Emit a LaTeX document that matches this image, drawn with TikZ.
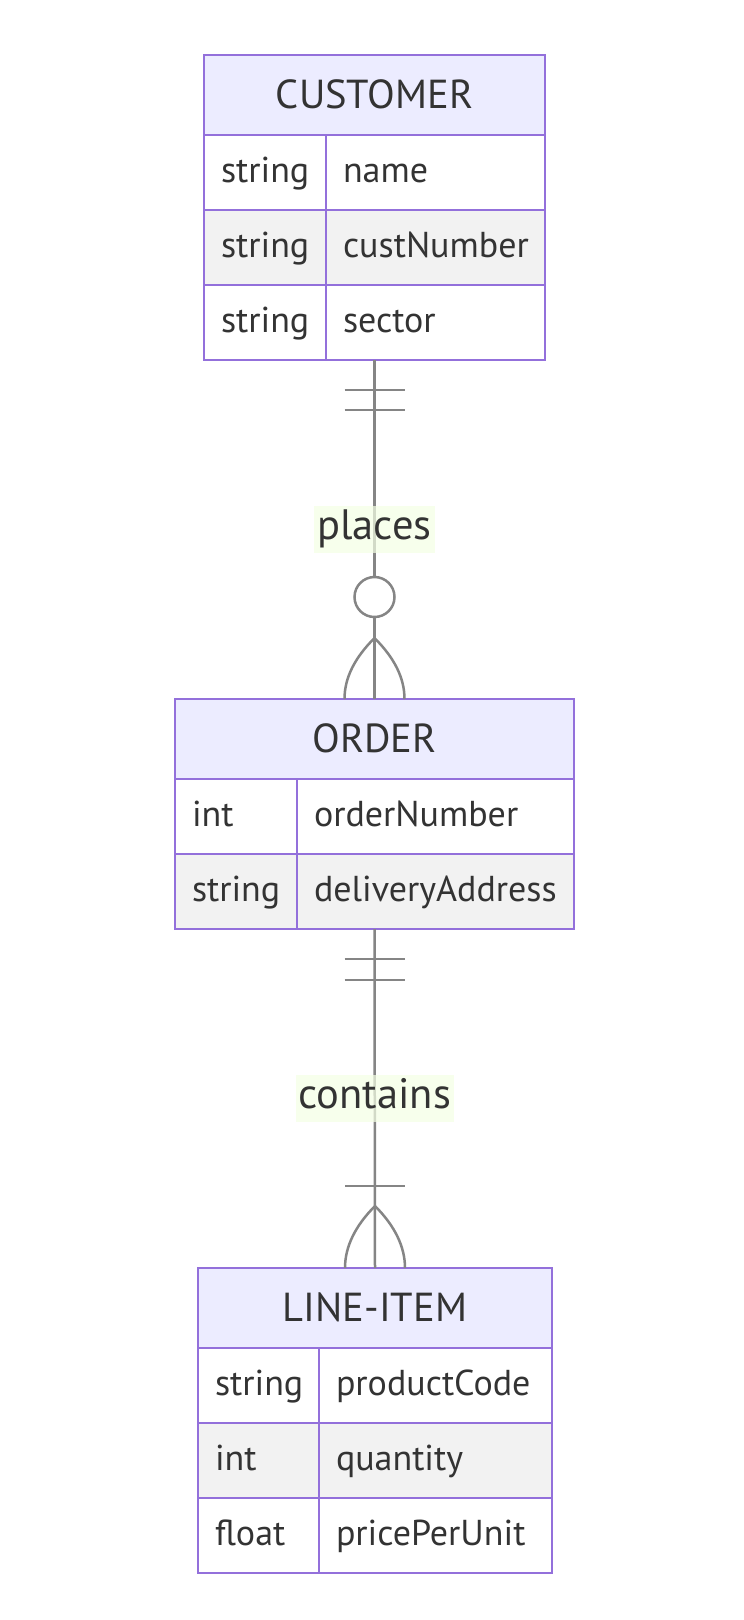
\documentclass[tikz,border=0pt]{standalone}
\usepackage{fontspec}
\setmainfont{PT Sans}
\usetikzlibrary{calc}
\hyphenpenalty=10000

\begin{document}
\begin{tikzpicture}
    [x=1pt, y=-1pt, scale=1.0,
    %Option for the tables
    inner sep=0pt, outer sep=0pt,%
    head/.style={draw=erborder, fill=erhead, line width=2.6pt, minimum height=80,
        minimum width=#1, text height=29, text depth=3, text=ertext,
        font=\fontsize{40.5}{44}\selectfont},
    cell/.style={draw=erborder, line width=2.6pt, anchor=north west, minimum height=75,
        minimum width=#1, text width=#1-34, inner xsep=17pt, align=left,
        text height=26, text depth=6, text=ertext, font=\fontsize{36}{40}\selectfont},
    rel/.style={draw=erline, line width=2.5pt},
    lbl/.style={fill=erlabel, fill opacity=0.7, text opacity=1, text=ertext,
        inner xsep=3pt, minimum height=47, text height=28, text depth=8,
        font=\fontsize{42.5}{46}\selectfont}];

    % Colors

    \definecolor{erborder}{HTML}{9370DB};
    \definecolor{erhead}{HTML}{ECECFF};
    \definecolor{errow}{HTML}{F2F2F2};
    \definecolor{erline}{HTML}{858585};
    \definecolor{erlabel}{HTML}{F4FFE4};
    \definecolor{ertext}{HTML}{333333};

    % Frame
    \useasboundingbox[fill=white] (0,0) rectangle (744,1620);

    % Customer table
    \node[head=341] (cust) at (374.5,95) {CUSTOMER};
    \foreach \ty/\nm/\bg [count=\i] in {string/name/white, string/custNumber/errow, string/sector/white}
    {
        \node[cell=122, fill=\bg] (cust-t\i) at (204,{135+75*(\i-1)}) {\ty};
        \node[cell=219, fill=\bg] (cust-n\i) at (326,{135+75*(\i-1)}) {\nm};
    }

    % Order table
    \node[head=399] (order) at (374.5,739) {ORDER};
    \foreach \ty/\nm/\bg [count=\i] in {int/orderNumber/white, string/deliveryAddress/errow}
    {
        \node[cell=122, fill=\bg] (order-t\i) at (175,{779+75*(\i-1)}) {\ty};
        \node[cell=277, fill=\bg] (order-n\i) at (297,{779+75*(\i-1)}) {\nm};
    }

    % Line item table
    \node[head=354] (item) at (375,1308) {LINE-ITEM};
    \foreach \ty/\nm/\bg [count=\i] in {string/productCode/white, int/quantity/errow, float/pricePerUnit/white}
    {
        \node[cell=121, fill=\bg] (item-t\i) at (198,{1348+75*(\i-1)}) {\ty};
        \node[cell=233, fill=\bg] (item-n\i) at (319,{1348+75*(\i-1)}) {\nm};
    }

    % places: exactly one customer, zero or more orders
    \coordinate (cust-bot) at (cust |- cust-n3.south);
    \draw[rel] (cust-bot) -- node[lbl] (places) {places} (order.north);
    \draw[rel] ($(cust-bot)+(-30,30)$) -- +(60,0);
    \draw[rel] ($(cust-bot)+(-30,50)$) -- +(60,0);
    \draw[rel, fill=white] ($(order.north)+(0,-102)$) circle[radius=20];
    \draw[rel] ($(order.north)+(-30,0)$) .. controls +(0,-21) and +(-20,20) .. ($(order.north)+(0,-61)$)
        .. controls +(20,20) and +(0,-21) .. ($(order.north)+(30,0)$);

    % contains: exactly one order, one or more line items
    \coordinate (order-bot) at (order |- order-n2.south);
    \draw[rel] (order-bot) -- node[lbl] (contains) {contains} (item.north);
    \draw[rel] ($(order-bot)+(-30,30)$) -- +(60,0);
    \draw[rel] ($(order-bot)+(-30,51)$) -- +(60,0);
    \draw[rel] ($(item.north)+(-30,-82)$) -- +(60,0);
    \draw[rel] ($(item.north)+(-30,0)$) .. controls +(0,-21) and +(-20,20) .. ($(item.north)+(0,-62)$)
        .. controls +(20,20) and +(0,-21) .. ($(item.north)+(30,0)$);

\end{tikzpicture}
\end{document}
